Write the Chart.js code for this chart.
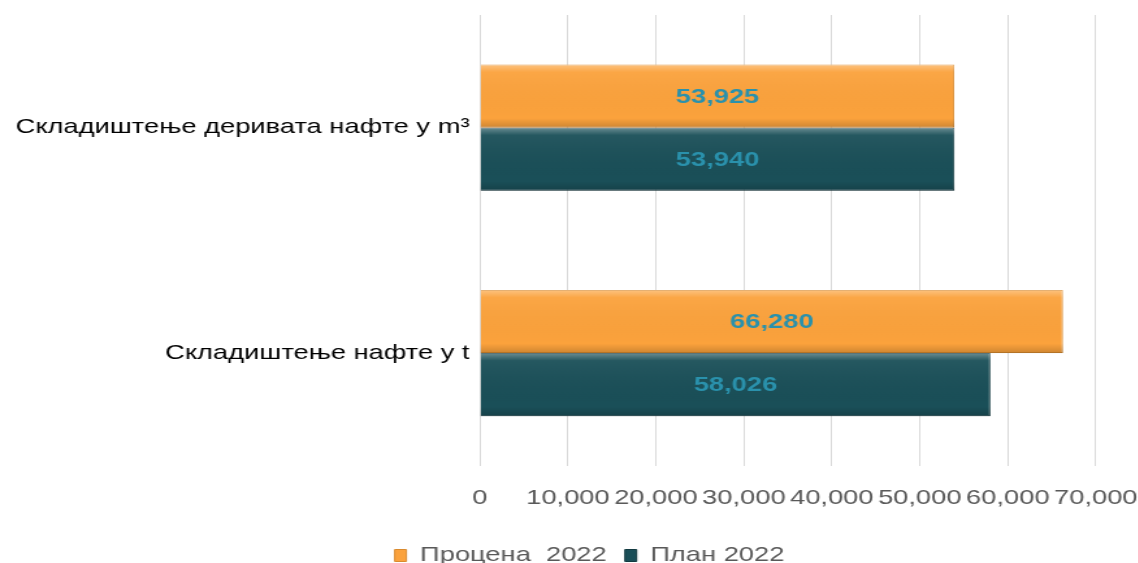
<!DOCTYPE html>
<html>
<head>
<meta charset="utf-8">
<script src="https://cdn.jsdelivr.net/npm/chart.js@4/dist/chart.umd.min.js"></script>
<style>
  html, body { margin: 0; padding: 0; background: #fff; overflow: hidden; }
  /* the reference text is wide, so draw narrow and stretch horizontally */
  #wrap { width: 895px; height: 576px; position: relative; transform: scaleX(1.3); transform-origin: 0 0; }
</style>
</head>
<body>
<div id="wrap"><canvas id="storageChart"></canvas></div>
<script>
// categories and series
var categories = ['Складиштење деривата нафте у m³', 'Складиштење нафте у t'];
var procena2022 = [53925, 66280];
var plan2022 = [53940, 58026];
var seriesNames = ['Процена  2022', 'План 2022'];

var FONT = '"Liberation Sans", Arial, sans-serif';

// bevel shading over each bar, then the value label centered in it
var barValueLabels = {
    id: 'barValueLabels',
    afterDatasetsDraw: function(chart){
        var ctx = chart.ctx;
        ctx.save();
        chart.data.datasets.forEach(function(ds, di){
            chart.getDatasetMeta(di).data.forEach(function(bar){
                var top = bar.y - bar.height / 2;
                var left = Math.min(bar.x, bar.base);
                var w = Math.abs(bar.x - bar.base);
                var g = ctx.createLinearGradient(0, top, 0, top + bar.height);
                g.addColorStop(0, 'rgba(255,255,255,0.35)');
                g.addColorStop(0.12, 'rgba(255,255,255,0.05)');
                g.addColorStop(0.85, 'rgba(0,0,0,0)');
                g.addColorStop(1, 'rgba(0,0,0,0.18)');
                ctx.fillStyle = g;
                ctx.fillRect(left, top, w, bar.height);
            });
        });
        ctx.font = 'bold 21px ' + FONT;
        ctx.fillStyle = '#2A91AC';
        ctx.textAlign = 'center';
        ctx.textBaseline = 'middle';
        chart.data.datasets.forEach(function(ds, di){
            var meta = chart.getDatasetMeta(di);
            meta.data.forEach(function(bar, i){
                var cx = (bar.x + bar.base) / 2;
                ctx.fillText(ds.data[i].toLocaleString('en-US'), cx, bar.y + 1);
            });
        });
        ctx.restore();
    }
};

var ctx = document.getElementById('storageChart');

var config = {
    type: 'bar',
    data: {
        labels: categories,
        datasets: [
            {
                label: seriesNames[0],
                data: procena2022,
                backgroundColor: '#FBA23C',
                borderColor: '#D98A2E',
                borderWidth: 1,
            },
            {
                label: seriesNames[1],
                data: plan2022,
                backgroundColor: '#1A4F58',
                borderColor: '#123A41',
                borderWidth: 1,
            }
        ]
    },
    options: {
        indexAxis: 'y',
        responsive: true,
        maintainAspectRatio: false,
        animation: false,
        layout: {
            padding: { top: 15, right: 0, left: 12, bottom: 0 }
        },
        datasets: {
            bar: {
                barPercentage: 1,
                categoryPercentage: 0.56,
            }
        },
        plugins: {
            tooltip: { enabled: false },
            legend: {
                display: true,
                position: 'bottom',
                labels: {
                    boxWidth: 9,
                    boxHeight: 12,
                    padding: 14,
                    color: '#595959',
                    font: { size: 21, family: FONT }
                }
            }
        },
        scales: {
            x: {
                min: 0,
                max: 70000,
                ticks: {
                    stepSize: 10000,
                    color: '#595959',
                    padding: 20,
                    maxRotation: 0,
                    autoSkip: false,
                    font: { size: 21, family: FONT },
                    callback: function(v){ return Number(v).toLocaleString('en-US'); }
                },
                grid: {
                    color: '#D9D9D9',
                    drawTicks: false,
                },
                border: { display: false }
            },
            y: {
                ticks: {
                    color: '#000000',
                    padding: 0,
                    font: { size: 21, family: FONT }
                },
                grid: { display: false },
                border: { display: false }
            }
        }
    },
    plugins: [barValueLabels]
};

new Chart(ctx, config);
</script>
</body>
</html>
